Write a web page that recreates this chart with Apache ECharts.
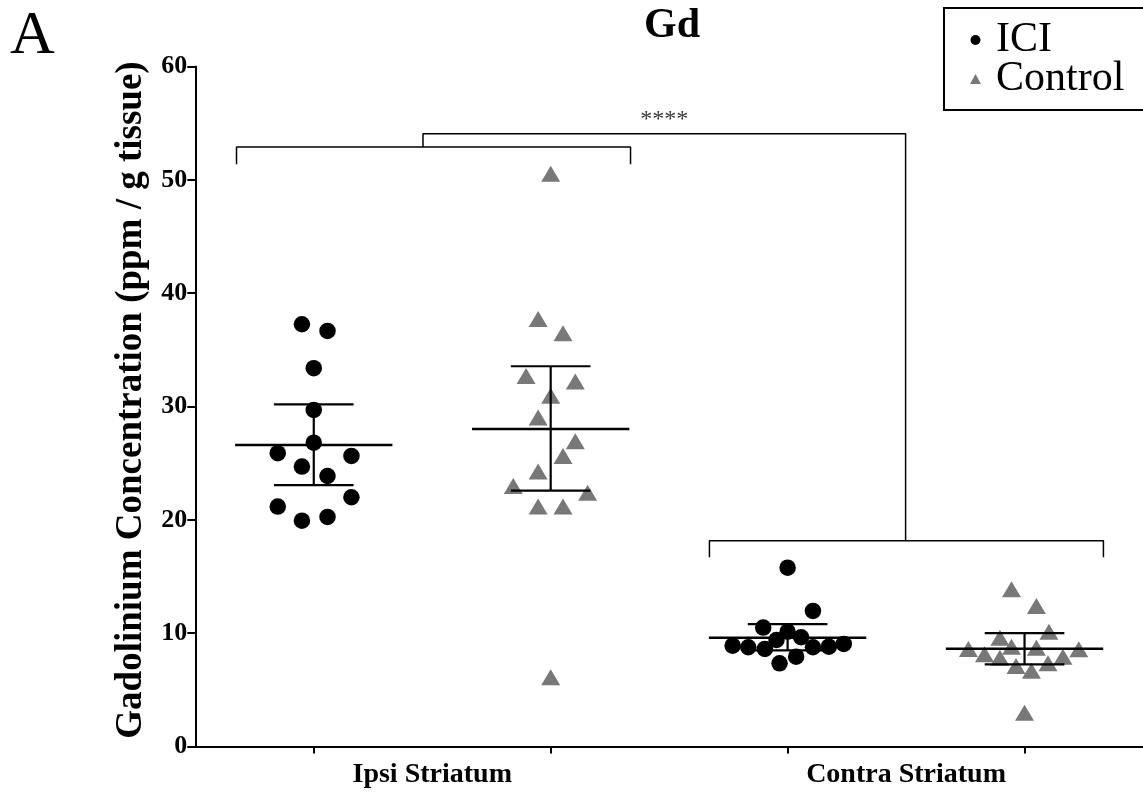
<!DOCTYPE html>
<html>
<head>
<meta charset="utf-8">
<script src="https://cdn.jsdelivr.net/npm/echarts@6/dist/echarts.min.js"></script>
<style>
html,body{margin:0;padding:0;background:#fff;}
#chart{width:1143px;height:792px;}
</style>
</head>
<body>
<div id="chart"></div>
<script>
// ---- data ----
const categories = ['Ipsi Striatum', 'Contra Striatum'];
const groupNames = ['ICI', 'Control', 'ICI', 'Control'];
const yTicks = [0, 10, 20, 30, 40, 50, 60];

const iciIpsi = [37.26, 36.67, 33.38, 29.70, 26.81, 25.88, 25.64, 24.70, 23.87, 21.99, 21.17, 20.26, 19.93];
const iciIpsiJitter = [-0.05, 0.058, 0, 0, 0, -0.152, 0.159, -0.05, 0.058, 0.159, -0.152, 0.058, -0.05];

const ctrlIpsi = [50.53, 37.73, 36.47, 32.70, 32.20, 30.94, 29.02, 26.94, 25.64, 24.26, 22.99, 22.40, 21.17, 21.17, 6.10];
const ctrlIpsiJitter = [0, -0.053, 0.052, -0.104, 0.104, 0, -0.053, 0.104, 0.052, -0.053, -0.158, 0.156, -0.053, 0.052, 0];

const iciContra = [15.78, 11.96, 10.49, 10.13, 9.64, 9.40, 8.90, 8.76, 8.61, 8.76, 8.81, 9.05, 7.93, 7.34];
const iciContraJitter = [0, 0.107, -0.103, 0, 0.057, -0.047, -0.232, -0.166, -0.096, 0.107, 0.174, 0.237, 0.036, -0.034];

const ctrlContra = [13.87, 12.40, 10.13, 9.60, 8.81, 8.72, 8.61, 8.58, 8.14, 7.93, 7.84, 7.34, 7.10, 6.69, 2.98];
const ctrlContraJitter = [-0.055, 0.050, 0.103, -0.104, -0.055, 0.050, -0.237, 0.229, -0.169, 0.162, -0.104, 0.099, -0.036, 0.029, 0];

// mean and error bar (lower, upper) per group
const groupMean = [26.60, 28.02, 9.60, 8.62];
const groupLow = [23.07, 22.58, 8.48, 7.25];
const groupHigh = [30.19, 33.55, 10.80, 10.00];

// significance annotation
const sigLabel = '****';

// ---- build ----
const FONT = '"Liberation Serif", "Times New Roman", serif';
const groupCenter = [0.5, 1.5, 2.5, 3.5];

function pts(vals, jit, g) {
  return vals.map((v, i) => [groupCenter[g] + jit[i], v]);
}

const MEAN_HW = 0.332, CAP_HW = 0.168;

const errData = groupMean.map((m, i) => [groupCenter[i], m, groupLow[i], groupHigh[i]]);

function renderErr(params, api) {
  const x = api.value(0), m = api.value(1), lo = api.value(2), hi = api.value(3);
  const a = api.coord([x - MEAN_HW, m]), b = api.coord([x + MEAN_HW, m]);
  const c1 = api.coord([x - CAP_HW, hi]), c2 = api.coord([x + CAP_HW, hi]);
  const d1 = api.coord([x - CAP_HW, lo]), d2 = api.coord([x + CAP_HW, lo]);
  const v1 = api.coord([x, hi]), v2 = api.coord([x, lo]);
  const st = { stroke: '#000', lineWidth: 2.2 };
  return {
    type: 'group',
    children: [
      { type: 'line', shape: { x1: a[0], y1: a[1], x2: b[0], y2: b[1] }, style: { stroke: '#000', lineWidth: 2.6 } },
      { type: 'line', shape: { x1: c1[0], y1: c1[1], x2: c2[0], y2: c2[1] }, style: st },
      { type: 'line', shape: { x1: d1[0], y1: d1[1], x2: d2[0], y2: d2[1] }, style: st },
      { type: 'line', shape: { x1: v1[0], y1: v1[1], x2: v2[0], y2: v2[1] }, style: st }
    ]
  };
}

// bracket geometry (axis units)
const b1 = { x0: 0.174, x1: 1.837, y: 52.90, yb: 51.37 };
const b2 = { x0: 2.170, x1: 3.833, y: 18.16, yb: 16.69 };
const bTop = { xa: 0.961, xb: 2.998, y: 54.07 };

const bracketStyle = { color: '#000', width: 1.5 };
function bracketSeries(data) {
  return { type: 'line', data: data, symbol: 'none', silent: true, lineStyle: bracketStyle, z: 4, animation: false, legendHoverLink: false };
}

const CIRCLE_COLOR = '#000000';
const TRI_COLOR = '#787878';

const chart = echarts.init(document.getElementById('chart'), null, { renderer: 'canvas' });
const option = {
  animation: false,
  backgroundColor: '#ffffff',
  textStyle: { fontFamily: FONT, color: '#000' },
  grid: { left: 195.3, right: -6, top: 66.5, bottom: 45.5, containLabel: false },
  legend: {
    orient: 'vertical',
    left: 944, top: 8,
    padding: [11, 40, 10, 26],
    itemWidth: 11, itemHeight: 10, itemGap: -3,
    borderColor: '#000', borderWidth: 2,
    textStyle: { fontFamily: FONT, fontSize: 42, color: '#000', padding: [0, 0, 0, 10] },
    data: [{ name: 'ICI', icon: 'circle' }, { name: 'Control', icon: 'triangle' }],
    selectedMode: false
  },
  xAxis: [
    {
      type: 'value', min: 0, max: 4, position: 'bottom',
      axisLine: { show: true, onZero: false, lineStyle: { color: '#000', width: 2 } },
      axisTick: { show: false }, axisLabel: { show: false }, splitLine: { show: false }
    },
    {
      type: 'category', position: 'bottom', data: groupNames.map((n, i) => n + i), boundaryGap: true,
      axisLine: { show: false },
      axisTick: { show: true, alignWithLabel: true, length: 7, lineStyle: { color: '#000', width: 2 } },
      axisLabel: { show: false }, splitLine: { show: false }
    },
    {
      type: 'category', position: 'bottom', data: categories, boundaryGap: true,
      axisLine: { show: false }, axisTick: { show: false }, splitLine: { show: false },
      axisLabel: { show: true, margin: 14, fontFamily: FONT, fontWeight: 'bold', fontSize: 28, color: '#000' }
    }
  ],
  yAxis: {
    type: 'value', min: yTicks[0], max: yTicks[yTicks.length - 1], interval: 10,
    axisLine: { show: true, lineStyle: { color: '#000', width: 2 } },
    axisTick: { show: true, length: 8, lineStyle: { color: '#000', width: 2 } },
    axisLabel: { margin: 8, fontFamily: FONT, fontWeight: 'bold', fontSize: 26, color: '#000' },
    splitLine: { show: false }
  },
  graphic: [
    { type: 'text', left: 10, top: 6, style: { text: 'A', font: 'normal 62px ' + FONT, fill: '#000' } },
    { type: 'text', x: 672, y: 26, style: { text: 'Gd', font: 'bold 42px ' + FONT, fill: '#000', textAlign: 'center', textVerticalAlign: 'middle' } },
    { type: 'text', x: 131, y: 400, rotation: Math.PI / 2, style: { text: 'Gadolinium Concentration (ppm / g tissue)', font: 'bold 37px ' + FONT, fill: '#000', textAlign: 'center', textVerticalAlign: 'middle' } }
  ],
  series: [
    { name: 'ICI', type: 'scatter', symbol: 'circle', symbolSize: 16.5, itemStyle: { color: CIRCLE_COLOR, opacity: 1 }, data: pts(iciIpsi, iciIpsiJitter, 0), z: 2 },
    { name: 'Control', type: 'scatter', symbol: 'triangle', symbolSize: [19, 16], itemStyle: { color: TRI_COLOR, opacity: 1 }, data: pts(ctrlIpsi, ctrlIpsiJitter, 1), z: 2 },
    { name: 'ICI', type: 'scatter', symbol: 'circle', symbolSize: 16.5, itemStyle: { color: CIRCLE_COLOR, opacity: 1 }, data: pts(iciContra, iciContraJitter, 2), z: 2 },
    { name: 'Control', type: 'scatter', symbol: 'triangle', symbolSize: [19, 16], itemStyle: { color: TRI_COLOR, opacity: 1 }, data: pts(ctrlContra, ctrlContraJitter, 3), z: 2 },
    { type: 'custom', renderItem: renderErr, data: errData, z: 3, silent: true, encode: { x: 0, y: [1, 2, 3] } },
    bracketSeries([[b1.x0, b1.yb], [b1.x0, b1.y], [b1.x1, b1.y], [b1.x1, b1.yb]]),
    bracketSeries([[b2.x0, b2.yb], [b2.x0, b2.y], [b2.x1, b2.y], [b2.x1, b2.yb]]),
    bracketSeries([[bTop.xa, b1.y], [bTop.xa, bTop.y], [bTop.xb, bTop.y], [bTop.xb, b2.y]]),
    {
      type: 'scatter', symbolSize: 0, silent: true, z: 4,
      data: [[(bTop.xa + bTop.xb) / 2, bTop.y]],
      label: { show: true, position: 'top', distance: 2, formatter: sigLabel, fontFamily: FONT, fontSize: 24, color: '#000' }
    }
  ]
};
chart.setOption(option);
</script>
</body>
</html>
